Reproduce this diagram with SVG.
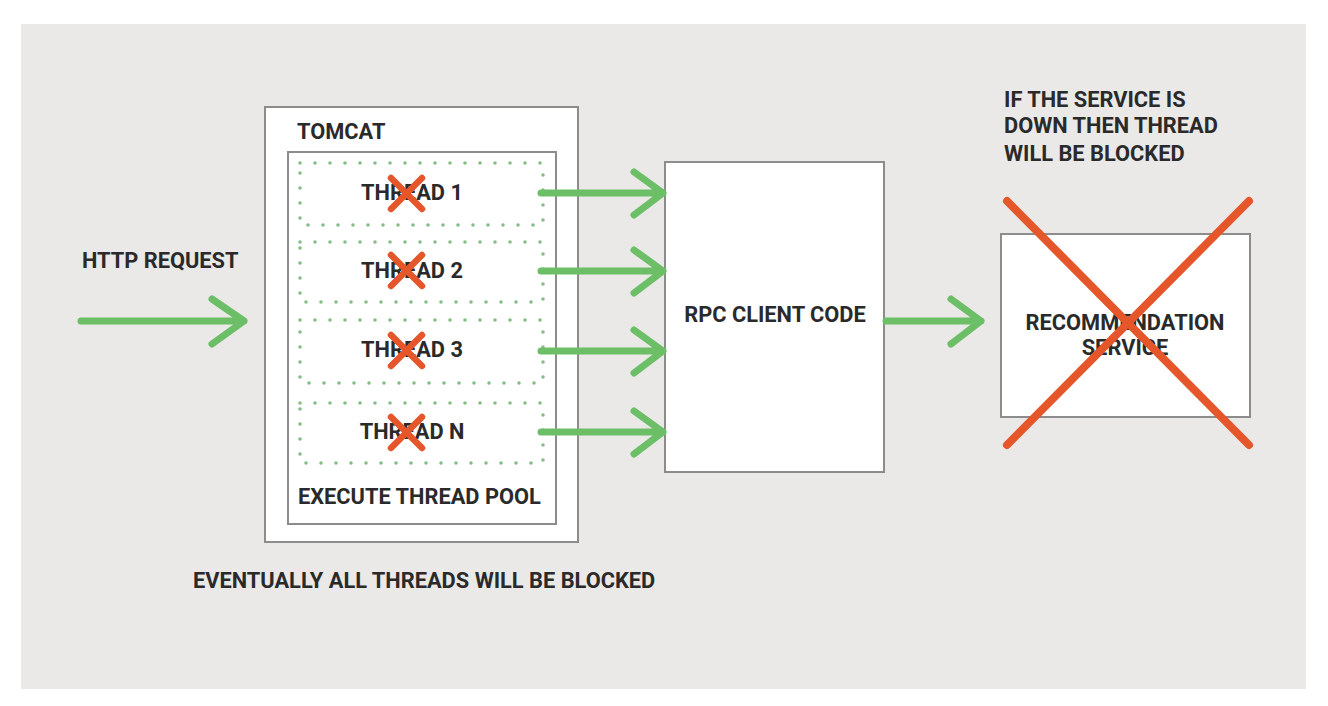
<svg xmlns="http://www.w3.org/2000/svg" width="1328" height="706" viewBox="0 0 1328 706">
<style>
.t{font-family:Roboto,"Liberation Sans",Arial,sans-serif;font-weight:bold;font-size:21.8px;fill:#2a2a2a}
.box{fill:#fff;stroke:#8c8c8c;stroke-width:2}
.dots{fill:none;stroke:#86bd86;stroke-width:3.6;stroke-linecap:round;stroke-dasharray:0 15}
.arr{fill:none;stroke:#6cbf67;stroke-width:7;stroke-linecap:round;stroke-linejoin:round}
.x{stroke:#e5562a;stroke-linecap:round}
</style>
<rect x="0" y="0" width="1328" height="706" fill="#fff"/>
<rect x="21" y="24" width="1285" height="665" fill="#ebe9e7"/>

<g id="http-request">
<text class="t" x="82" y="268">HTTP REQUEST</text>
</g>

<g id="tomcat">
<rect class="box" x="265" y="107" width="313" height="435"/>
<text class="t" x="297" y="139">TOMCAT</text>
</g>

<g id="thread-pool">
<rect class="box" x="288" y="152" width="268" height="372"/>
<text class="t" x="298" y="504">EXECUTE THREAD POOL</text>
</g>

<g id="thread-1">
<rect class="dots" x="300" y="163" width="243" height="62"/>
<text class="t" x="412" y="200" text-anchor="middle">THREAD 1</text>
<path class="x" stroke-width="6.5" d="M391 178 L422 209 M422 178 L391 209"/>
</g>
<g id="thread-2">
<rect class="dots" x="300" y="242" width="243" height="60"/>
<text class="t" x="412" y="278" text-anchor="middle">THREAD 2</text>
<path class="x" stroke-width="6.5" d="M391 255 L422 286 M422 255 L391 286"/>
</g>
<g id="thread-3">
<rect class="dots" x="300" y="320" width="243" height="63"/>
<text class="t" x="412" y="357" text-anchor="middle">THREAD 3</text>
<path class="x" stroke-width="6.5" d="M391 335 L422 366 M422 335 L391 366"/>
</g>
<g id="thread-n">
<rect class="dots" x="300" y="403" width="243" height="60"/>
<text class="t" x="412" y="439" text-anchor="middle">THREAD N</text>
<path class="x" stroke-width="6.5" d="M391 417 L422 448 M422 417 L391 448"/>
</g>

<g id="rpc-client">
<rect class="box" x="665" y="162" width="219" height="310"/>
<text class="t" x="775" y="322" text-anchor="middle">RPC CLIENT CODE</text>
</g>

<g id="recommendation-service">
<rect class="box" x="1001" y="234" width="249" height="183"/>
<text class="t" x="1125" y="330" text-anchor="middle">RECOMMENDATION</text>
<text class="t" x="1125" y="355" text-anchor="middle">SERVICE</text>
<path class="x" stroke-width="8" d="M1007 201 L1249 445 M1249 201 L1007 445"/>
</g>

<g id="notes">
<text class="t" x="1004" y="107">IF THE SERVICE IS</text>
<text class="t" x="1004" y="133">DOWN THEN THREAD</text>
<text class="t" x="1004" y="161">WILL BE BLOCKED</text>
<text class="t" x="193" y="588">EVENTUALLY ALL THREADS WILL BE BLOCKED</text>
</g>

<g id="connectors">
<path class="arr" d="M81 321 H244 M212 299 L244 321 L212 344"/>
<path class="arr" d="M541 193 H663 M634 172 L663 193 L634 215"/>
<path class="arr" d="M541 271 H663 M634 250 L663 271 L634 293"/>
<path class="arr" d="M541 351 H663 M634 330 L663 351 L634 373"/>
<path class="arr" d="M541 432 H663 M634 411 L663 432 L634 454"/>
<path class="arr" d="M886 321 H981 M951 299 L981 321 L951 344"/>
</g>
</svg>
